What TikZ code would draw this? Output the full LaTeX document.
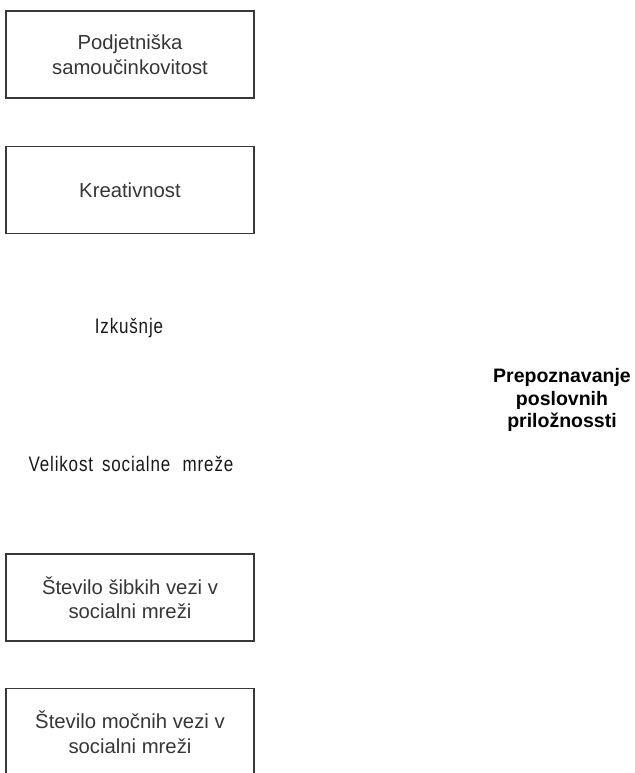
\documentclass[tikz,border=0pt]{standalone}
\usepackage{fontspec}
\setmainfont{Liberation Sans}
\newfontfamily\spacedfont[FakeStretch=0.81,LetterSpace=4,WordSpace=1.6]{Liberation Sans}
\definecolor{boxline}{HTML}{383838}
\definecolor{boxtext}{HTML}{363636}
\begin{document}
\begin{tikzpicture}[x=1pt,y=-1pt,
  factorbox/.style={draw=boxline,line width=1.2pt,minimum width=248pt,minimum height=87pt,
    align=center,inner sep=0pt,text=boxtext,font=\fontsize{20.3}{24.5}\selectfont},
  plainlabel/.style={inner sep=0pt,text=black!90,font=\spacedfont\fontsize{21}{25}\selectfont},
  outcome/.style={inner sep=0pt,align=center,font=\bfseries\fontsize{19.5}{22.5}\selectfont}]
  \useasboundingbox (0,0) rectangle (634,773);
  \clip (0,0) rectangle (634,773);
  \node[factorbox] (selfeff) at (130,54.5) {Podjetniška\\samoučinkovitost};
  \node[factorbox] (creat) at (130,190) {Kreativnost};
  \node[plainlabel,anchor=base] (exp) at (129,333) {Izkušnje};
  \node[plainlabel,anchor=base] (netsize) at (131,471) {Velikost socialne\, mreže};
  \node[factorbox] (weak) at (130,597.5) {Število šibkih vezi v\\socialni mreži};
  \node[factorbox,anchor=north] (strong) at (130,688) {Število močnih vezi v\\socialni mreži};
  \node[outcome] (recog) at (562,400) {Prepoznavanje\\poslovnih\\priložnossti};
\end{tikzpicture}
\end{document}
